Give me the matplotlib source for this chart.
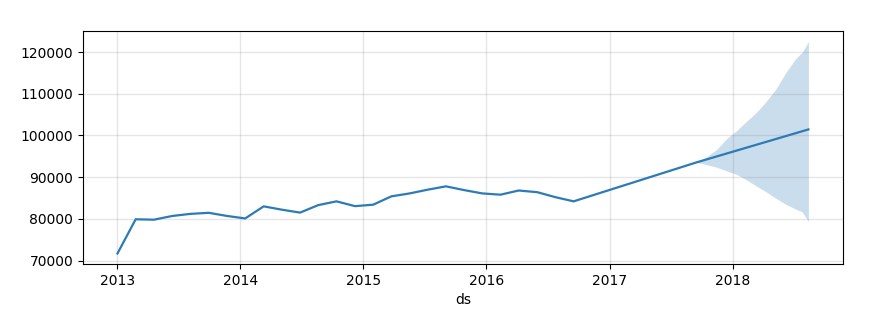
import matplotlib
matplotlib.use("Agg")
import matplotlib.pyplot as plt
import pandas as pd

# fitted / forecast line
line_dates = ["2013-01-01", "2013-02-24", "2013-04-19", "2013-06-13", "2013-08-06",
              "2013-09-29", "2013-11-22", "2014-01-15", "2014-03-11", "2014-05-04",
              "2014-06-27", "2014-08-20", "2014-10-13", "2014-12-07", "2015-01-30",
              "2015-03-25", "2015-05-18", "2015-07-11", "2015-09-03", "2015-10-27",
              "2015-12-20", "2016-02-12", "2016-04-06", "2016-05-31", "2016-07-24",
              "2016-09-16", "2017-09-16", "2018-08-14"]
line_values = [71700, 79900, 79800, 80700, 81200,
               81450, 80700, 80100, 83000, 82200,
               81500, 83300, 84200, 83050, 83400,
               85400, 86100, 87000, 87800, 86900,
               86100, 85800, 86800, 86400, 85200,
               84200, 93550, 101450]

# uncertainty interval
band_dates = ["2017-09-16", "2017-10-16", "2017-11-14", "2017-12-14", "2018-01-12",
              "2018-02-10", "2018-03-12", "2018-04-10", "2018-05-10", "2018-06-08",
              "2018-07-08", "2018-07-26", "2018-08-14"]
band_upper = [93550, 94900, 96600, 99200, 101100,
              103300, 105500, 108100, 111200, 115100,
              118500, 119900, 122500]
band_lower = [93550, 93000, 92400, 91500, 90700,
              89400, 87900, 86500, 84900, 83500,
              82300, 81700, 79400]

fig = plt.figure(figsize=(8.73, 3.17), dpi=100)
ax = fig.add_axes([0.095, 0.167, 0.8706, 0.735])

ax.plot(pd.to_datetime(line_dates), line_values, ls="-", c="#2c7bb6", lw=1.6)
ax.fill_between(pd.to_datetime(band_dates), band_lower, band_upper,
                color="#2c7bb6", alpha=0.25, lw=0)
ax.grid(True, which="major", c="gray", ls="-", lw=1, alpha=0.2)
ax.set_xlabel("ds")
ax.set_yticks([70000, 80000, 90000, 100000, 110000, 120000])

fig.savefig("out.png", dpi=100)
